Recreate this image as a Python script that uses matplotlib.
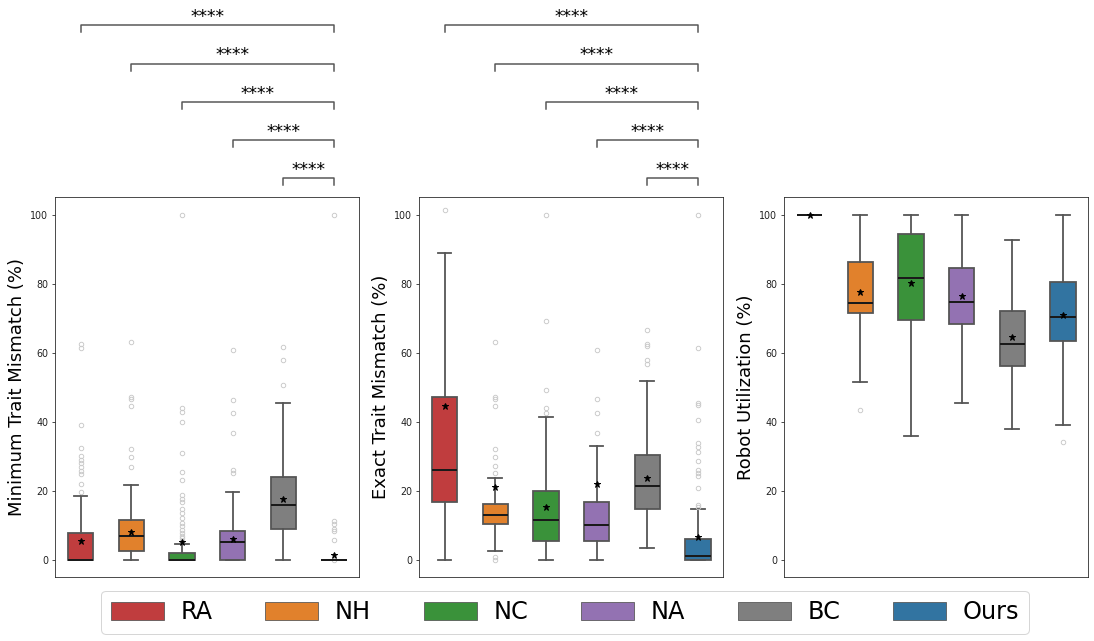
import matplotlib
matplotlib.use("Agg")
import matplotlib.pyplot as plt
from matplotlib.patches import Patch

methods = ["RA", "NH", "NC", "NA", "BC", "Ours"]
colors = ["#c03d3e", "#e1812c", "#3a923a", "#9372b2", "#7f7f7f", "#3274a1"]

# Panel 1: Minimum Trait Mismatch (%)
min_q1 = [0.0, 2.7, 0.0, 0.0, 9.0, 0.0]
min_med = [0.0, 6.9, 0.0, 5.3, 16.0, 0.0]
min_q3 = [7.9, 11.6, 2.1, 8.5, 24.1, 0.0]
min_lo = [0.0, 0.0, 0.0, 0.0, 0.0, 0.0]
min_hi = [18.6, 21.8, 4.7, 19.8, 45.5, 0.0]
min_mean = [5.5, 8.0, 5.1, 6.1, 17.6, 1.35]
min_fliers = [
    [19.7, 21.9, 24.8, 25.7, 27.0, 28.0, 29.1, 30.2, 32.3, 39.0, 61.5, 62.5],
    [26.8, 29.7, 32.0, 44.5, 46.5, 47.3, 63.0],
    [5.6, 6.3, 7.0, 7.7, 8.7, 9.8, 10.8, 12.1, 13.5, 14.9, 16.9, 17.8, 18.8,
     23.3, 25.4, 30.9, 40.1, 42.8, 43.9, 100.0],
    [25.1, 26.0, 36.9, 42.7, 46.2, 60.7],
    [50.8, 57.8, 61.8],
    [0.0, 5.7, 8.4, 9.1, 10.3, 11.3, 100.0],
]

# Panel 2: Exact Trait Mismatch (%)
ex_q1 = [16.8, 10.5, 5.6, 5.6, 14.8, 0.0]
ex_med = [26.1, 13.1, 11.6, 10.2, 21.4, 1.2]
ex_q3 = [47.2, 16.2, 20.0, 16.8, 30.4, 6.2]
ex_lo = [0.0, 2.7, 0.0, 0.0, 3.5, 0.0]
ex_hi = [88.9, 23.8, 41.5, 33.0, 51.8, 14.8]
ex_mean = [44.7, 21.1, 15.3, 22.0, 23.7, 6.6]
ex_fliers = [
    [101.2],
    [0.0, 1.0, 25.1, 27.1, 29.7, 32.0, 44.5, 46.5, 47.3, 63.0],
    [42.7, 43.9, 49.1, 69.3, 100.0],
    [36.9, 42.7, 46.5, 60.7],
    [56.8, 57.8, 61.9, 62.5, 66.7],
    [15.3, 15.9, 20.9, 24.3, 25.2, 26.2, 28.6, 31.4, 32.8, 34.0, 40.5, 44.9,
     45.5, 61.5, 100.0],
]

# Panel 3: Robot Utilization (%)
ru_q1 = [100.0, 71.6, 69.5, 68.2, 56.2, 63.3]
ru_med = [100.0, 74.3, 81.5, 74.7, 62.5, 70.3]
ru_q3 = [100.0, 86.2, 94.3, 84.4, 72.0, 80.4]
ru_lo = [100.0, 51.4, 35.8, 45.5, 38.0, 39.1]
ru_hi = [100.0, 100.0, 100.0, 100.0, 92.6, 100.0]
ru_mean = [100.0, 77.5, 80.3, 76.3, 64.7, 70.8]
ru_fliers = [[], [43.5], [], [], [], [34.3]]

ylabels = ["Minimum Trait Mismatch (%)", "Exact Trait Mismatch (%)",
           "Robot Utilization (%)"]
sig_label = "****"

panels = [
    (min_q1, min_med, min_q3, min_lo, min_hi, min_mean, min_fliers),
    (ex_q1, ex_med, ex_q3, ex_lo, ex_hi, ex_mean, ex_fliers),
    (ru_q1, ru_med, ru_q3, ru_lo, ru_hi, ru_mean, ru_fliers),
]

W, H = 1094, 641
fig = plt.figure(figsize=(W / 72, H / 72), dpi=72)
lefts = [55.3, 419.3, 784.3]
aw = 304.0
top_px, bot_px = 197.3, 577.3

edge = "#555555"
for k, (q1, med, q3, lo, hi, mean, fl) in enumerate(panels):
    ax = fig.add_axes([lefts[k] / W, 1 - bot_px / H, aw / W, (bot_px - top_px) / H])
    stats = []
    for i in range(len(methods)):
        stats.append(dict(q1=q1[i], med=med[i], q3=q3[i], whislo=lo[i],
                          whishi=hi[i], mean=mean[i], fliers=fl[i]))
    bp = ax.bxp(stats, positions=range(len(methods)), widths=0.5,
                capwidths=0.27, patch_artist=True, showmeans=True,
                boxprops=dict(edgecolor=edge, linewidth=1.8),
                whiskerprops=dict(color=edge, linewidth=1.8),
                capprops=dict(color=edge, linewidth=1.8),
                medianprops=dict(color="#1a1a1a", linewidth=2.0),
                meanprops=dict(marker="*", markerfacecolor="black",
                               markeredgecolor="black", markersize=7),
                flierprops=dict(marker="o", markerfacecolor="none",
                                markeredgecolor="#c8c8c8", markersize=4.5,
                                markeredgewidth=0.9))
    for patch, c in zip(bp["boxes"], colors):
        patch.set_facecolor(c)
    ax.set_xlim(-0.5, len(methods) - 0.5)
    ax.set_ylim(-5, 105)
    ax.set_xticks([])
    ax.set_yticks([0, 20, 40, 60, 80, 100])
    ax.tick_params(axis="y", labelsize=9.5, colors="#222222")
    ax.set_ylabel(ylabels[k], fontsize=18)
    for sp in ax.spines.values():
        sp.set_color("#222222")

    if k < 2:
        levels = [154.8, 143.7, 132.6, 121.6, 110.5]
        x2 = len(methods) - 1
        for i, yl in enumerate(levels):
            ax.plot([i, i, x2, x2], [yl - 2.0, yl, yl, yl - 2.0],
                    color="#555555", lw=1.5, clip_on=False)
            ax.text((i + x2) / 2, yl + 1.0, sig_label, ha="center",
                    va="baseline", fontsize=17, clip_on=False)

handles = [Patch(facecolor=c, edgecolor="#555555", linewidth=0.8, label=m)
           for m, c in zip(methods, colors)]
fig.legend(handles=handles, loc="lower center", bbox_to_anchor=(0.5165, 0.0),
           ncol=6, fontsize=24, handlelength=2.2, handletextpad=0.7,
           columnspacing=2.2, borderaxespad=0.3, handleheight=0.75)

fig.savefig("out.png", dpi=72)
